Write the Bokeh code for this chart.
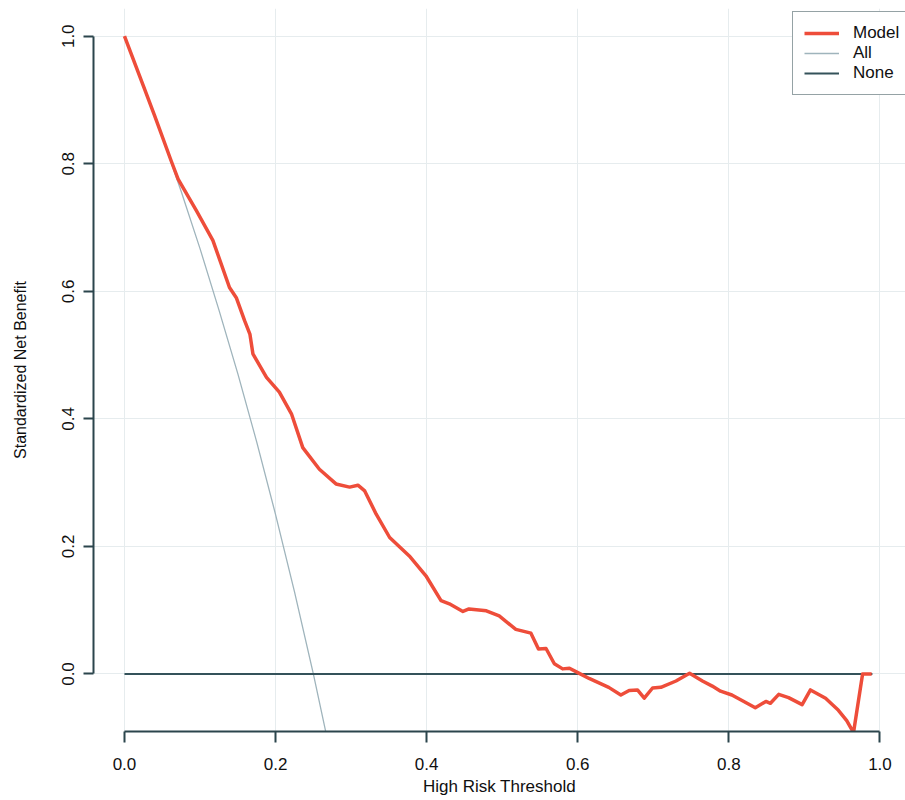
from bokeh.plotting import figure
from bokeh.models import Range1d, FixedTicker, Legend, LegendItem
from bokeh.embed import file_html
from bokeh.resources import INLINE

# ---- data ----
threshold = [0.000, 0.025, 0.040, 0.062, 0.071, 0.095, 0.117, 0.139, 0.148, 0.159,
             0.166, 0.170, 0.188, 0.205, 0.221, 0.236, 0.258, 0.280, 0.298, 0.309,
             0.318, 0.333, 0.351, 0.377, 0.399, 0.419, 0.430, 0.448, 0.456, 0.479,
             0.496, 0.518, 0.538, 0.548, 0.558, 0.569, 0.580, 0.589, 0.602, 0.615,
             0.641, 0.657, 0.668, 0.679, 0.688, 0.699, 0.710, 0.730, 0.748, 0.765,
             0.778, 0.789, 0.804, 0.818, 0.835, 0.849, 0.855, 0.866, 0.879, 0.897,
             0.908, 0.928, 0.945, 0.956, 0.965, 0.977, 0.989]
model_nb = [1.000, 0.922, 0.875, 0.804, 0.776, 0.727, 0.680, 0.606, 0.590, 0.554,
            0.533, 0.502, 0.465, 0.442, 0.408, 0.355, 0.321, 0.298, 0.293, 0.296,
            0.287, 0.251, 0.214, 0.185, 0.154, 0.115, 0.110, 0.098, 0.102, 0.099,
            0.091, 0.070, 0.064, 0.039, 0.040, 0.016, 0.008, 0.009, 0.001, -0.007,
            -0.021, -0.033, -0.026, -0.025, -0.038, -0.022, -0.021, -0.011, 0.001, -0.011,
            -0.019, -0.027, -0.033, -0.042, -0.053, -0.043, -0.046, -0.032, -0.037, -0.048,
            -0.025, -0.038, -0.057, -0.073, -0.092, 0.000, 0.000]

all_threshold = [0.000, 0.025, 0.050, 0.075, 0.100, 0.125, 0.150, 0.175, 0.200,
                 0.225, 0.250, 0.275]
all_nb = [1.000, 0.923, 0.842, 0.757, 0.667, 0.571, 0.471, 0.364, 0.250,
          0.129, 0.000, -0.138]

none_threshold = [0.0, 0.99]
none_nb = [0.0, 0.0]

tick_values = [0.0, 0.2, 0.4, 0.6, 0.8, 1.0]
tick_labels = ["0.0", "0.2", "0.4", "0.6", "0.8", "1.0"]

series_labels = ["Model", "All", "None"]

# ---- styling ----
FONT = "Liberation Sans"
RED = "#ee4d3a"
ALLC = "#9fb4bc"
NONEC = "#34525a"
AXC = "#2b454c"
TXT = "#101010"

p = figure(width=905, height=800, output_backend="svg", toolbar_location=None,
           x_range=Range1d(-0.041, 1.0338), y_range=Range1d(-0.0902, 1.0435),
           min_border_left=93, min_border_right=0, min_border_top=8,
           min_border_bottom=69)
p.outline_line_color = None
p.background_fill_color = "white"
p.border_fill_color = "white"

r_all = p.line(all_threshold, all_nb, line_color=ALLC, line_width=1.3)
r_none = p.line(none_threshold, none_nb, line_color=NONEC, line_width=2)
r_model = p.line(threshold, model_nb, line_color=RED, line_width=3.5,
                 line_join="round")

for ax in (p.xaxis[0], p.yaxis[0]):
    ax.ticker = FixedTicker(ticks=tick_values)
    ax.major_label_overrides = {v: s for v, s in zip(tick_values, tick_labels)}
    ax.bounds = (0, 1)
    ax.axis_line_color = AXC
    ax.axis_line_width = 2
    ax.major_tick_line_color = AXC
    ax.major_tick_line_width = 2
    ax.major_tick_in = 0
    ax.minor_tick_line_color = None
    ax.major_label_text_font = FONT
    ax.major_label_text_font_size = "17px"
    ax.major_label_text_color = TXT
    ax.axis_label_text_font = FONT
    ax.axis_label_text_font_style = "normal"
    ax.axis_label_text_color = TXT

p.xaxis.axis_label = "High Risk Threshold"
p.xaxis.axis_label_text_font_size = "17px"
p.xaxis.major_tick_out = 11
p.xaxis.major_label_standoff = 15
p.xaxis.axis_label_standoff = 4

p.yaxis.axis_label = "Standardized Net Benefit"
p.yaxis.axis_label_text_font_size = "16px"
p.yaxis.major_tick_out = 10
p.yaxis.major_label_orientation = "vertical"
p.yaxis.major_label_standoff = 9
p.yaxis.axis_label_standoff = 31

for g in (p.xgrid[0], p.ygrid[0]):
    g.ticker = FixedTicker(ticks=tick_values)
    g.grid_line_color = "#e6ecee"
    g.grid_line_width = 1

legend = Legend(items=[LegendItem(label=series_labels[0], renderers=[r_model]),
                       LegendItem(label=series_labels[1], renderers=[r_all]),
                       LegendItem(label=series_labels[2], renderers=[r_none])],
                location=(699, 636))
legend.border_line_color = AXC
legend.border_line_width = 1.5
legend.background_fill_color = "white"
legend.background_fill_alpha = 1
legend.padding = 11
legend.margin = 0
legend.spacing = 0
legend.glyph_width = 35
legend.glyph_height = 20
legend.label_height = 20
legend.label_standoff = 14
legend.label_text_font = FONT
legend.label_text_font_size = "17px"
legend.label_text_color = TXT
legend.label_text_baseline = "middle"
p.add_layout(legend)

open("out.html", "w").write(file_html(p, INLINE))
